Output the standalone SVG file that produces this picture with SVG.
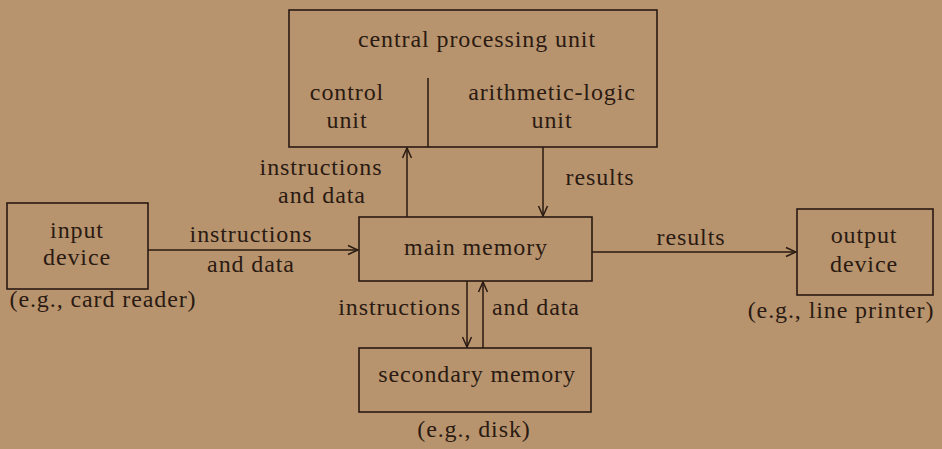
<svg xmlns="http://www.w3.org/2000/svg" width="942" height="449" viewBox="0 0 942 449">
  <style>
    .box { fill: none; stroke: #2a1a12; stroke-width: 1.6; }
    .line { fill: none; stroke: #2a1a12; stroke-width: 1.5; }
    text { font-family: "Liberation Serif", "Times New Roman", serif; font-size: 24px; fill: #2a1a12; letter-spacing: 0.9px; }
    .c { text-anchor: middle; }
    .e { text-anchor: end; }
  </style>
  <defs>
    <marker id="arrow" viewBox="0 0 12 12" refX="11" refY="6" markerWidth="12" markerHeight="12" markerUnits="userSpaceOnUse" orient="auto">
      <path d="M1,1.5 L11,6 L1,10.5" fill="none" stroke="#2a1a12" stroke-width="1.5"/>
    </marker>
  </defs>
  <rect x="0" y="0" width="942" height="449" fill="#b8946e"/>

  <g id="cpu">
    <rect class="box" x="289" y="10" width="368" height="137"/>
    <line class="line" x1="428" y1="78" x2="428" y2="147"/>
    <text class="c" x="477" y="47">central processing unit</text>
    <text class="c" x="347" y="100">control</text>
    <text class="c" x="347" y="128">unit</text>
    <text class="c" x="552" y="100">arithmetic-logic</text>
    <text class="c" x="552" y="128">unit</text>
  </g>

  <g id="main-memory">
    <rect class="box" x="359" y="217" width="233" height="64"/>
    <text class="c" x="476" y="255">main memory</text>
  </g>

  <g id="input-device">
    <rect class="box" x="7" y="203" width="141" height="86"/>
    <text class="c" x="77" y="238">input</text>
    <text class="c" x="77" y="265">device</text>
    <text class="c" x="103" y="307">(e.g., card reader)</text>
  </g>

  <g id="output-device">
    <rect class="box" x="797" y="209" width="136" height="86"/>
    <text class="c" x="864" y="243">output</text>
    <text class="c" x="864" y="272">device</text>
    <text class="c" x="841" y="318">(e.g., line printer)</text>
  </g>

  <g id="secondary-memory">
    <rect class="box" x="359" y="348" width="232" height="64"/>
    <text class="c" x="477" y="382">secondary memory</text>
    <text class="c" x="474" y="437">(e.g., disk)</text>
  </g>

  <g id="connectors">
    <line class="line" x1="148" y1="250" x2="358" y2="250" marker-end="url(#arrow)"/>
    <line class="line" x1="592" y1="252" x2="796" y2="252" marker-end="url(#arrow)"/>
    <line class="line" x1="407" y1="217" x2="407" y2="148" marker-end="url(#arrow)"/>
    <line class="line" x1="543" y1="147" x2="543" y2="216" marker-end="url(#arrow)"/>
    <line class="line" x1="467" y1="281" x2="467" y2="347" marker-end="url(#arrow)"/>
    <line class="line" x1="483" y1="348" x2="483" y2="282" marker-end="url(#arrow)"/>

    <text class="c" x="321" y="175">instructions</text>
    <text class="c" x="322" y="203">and data</text>
    <text class="c" x="600" y="185">results</text>
    <text class="c" x="251" y="242">instructions</text>
    <text class="c" x="251" y="272">and data</text>
    <text class="c" x="691" y="245">results</text>
    <text class="e" x="461" y="315">instructions</text>
    <text x="492" y="315">and data</text>
  </g>
</svg>
